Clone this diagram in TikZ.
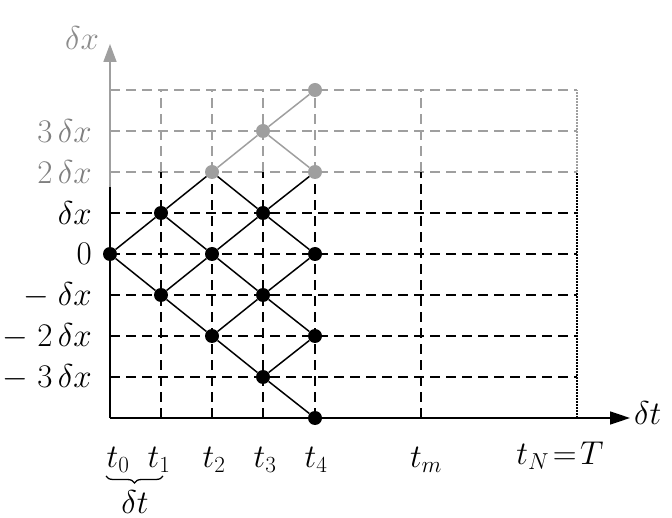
\RequirePackage{fix-cm}
\documentclass[tikz,border=0pt]{standalone}
\usetikzlibrary{arrows.meta,decorations.pathreplacing}
\begin{document}
\begin{tikzpicture}[x=1pt,y=-1pt,
  every node/.style={font=\fontsize{33}{36}\selectfont},
  bdot/.style={circle,fill=black,inner sep=0pt,minimum size=14pt},
  gdot/.style={circle,fill=gray!75,inner sep=0pt,minimum size=14pt},
  bgrid/.style={black,line width=1.4pt,dash pattern=on 10pt off 6pt},
  ggrid/.style={gray!75,line width=1.4pt,dash pattern=on 10pt off 6pt},
  bedge/.style={black,line width=1.5pt},
  gedge/.style={gray!75,line width=1.5pt},
  lab/.style={anchor=east,inner sep=0pt}]
\useasboundingbox (0,0) rectangle (672,518);
% horizontal grid lines
\foreach \k in {-3,-2,-1,0,1}{
  \draw[bgrid] (110,254-41*\k) -- (577,254-41*\k);}
\foreach \k in {2,3,4}{
  \draw[ggrid] (110,254-41*\k) -- (577,254-41*\k);}
% vertical grid lines
\foreach \x in {161,212,263,315,421}{
  \draw[bgrid] (\x,418) -- (\x,172);
  \draw[ggrid] (\x,172) -- (\x,90);}
\draw[black,line width=1.7pt,dash pattern=on 1.5pt off 1.5pt] (577,418) -- (577,172);
\draw[gray!75,line width=1.7pt,dash pattern=on 1.5pt off 1.5pt] (577,172) -- (577,90);
% axes
\coordinate (o) at (110,418);
\coordinate (ymid) at (110,187);
\coordinate (ytip) at (110,44);
\coordinate (xtip) at (630,418);
\draw[line width=1.6pt] (o) -- (ymid);
\draw[gray!75,line width=1.6pt,-{Triangle[length=18pt,width=13pt]}] (ymid) -- (ytip);
\draw[line width=1.6pt,-{Triangle[length=20pt,width=13pt]}] (o) -- (xtip);
\node[text=gray!90] (ylab) at (82,38) {$\delta x$};
\node[anchor=west,inner sep=0pt] (xlab) at (634,413) {$\delta t$};
% nodes
\node[bdot] (a00) at (110,254) {};
\node[bdot] (a1p) at (161,213) {};
\node[bdot] (a1m) at (161,295) {};
\node[gdot] (a2pp) at (212,172) {};
\node[bdot] (a20) at (212,254) {};
\node[bdot] (a2mm) at (212,336) {};
\node[gdot] (a3p3) at (263,131) {};
\node[bdot] (a3p1) at (263,213) {};
\node[bdot] (a3m1) at (263,295) {};
\node[bdot] (a3m3) at (263,377) {};
\node[gdot] (a4p4) at (315,90) {};
\node[gdot] (a4p2) at (315,172) {};
\node[bdot] (a40) at (315,254) {};
\node[bdot] (a4m2) at (315,336) {};
\node[bdot] (a4m4) at (315,418) {};
% edges
\draw[bedge] (a00) -- (a1p);
\draw[bedge] (a00) -- (a1m);
\draw[bedge] (a1p) -- (a2pp);
\draw[bedge] (a1p) -- (a20);
\draw[bedge] (a1m) -- (a20);
\draw[bedge] (a1m) -- (a2mm);
\draw[gedge] (a2pp) -- (a3p3);
\draw[bedge] (a2pp) -- (a3p1);
\draw[bedge] (a20) -- (a3p1);
\draw[bedge] (a20) -- (a3m1);
\draw[bedge] (a2mm) -- (a3m1);
\draw[bedge] (a2mm) -- (a3m3);
\draw[gedge] (a3p3) -- (a4p4);
\draw[gedge] (a3p3) -- (a4p2);
\draw[bedge] (a3p1) -- (a4p2);
\draw[bedge] (a3p1) -- (a40);
\draw[bedge] (a3m1) -- (a40);
\draw[bedge] (a3m1) -- (a4m2);
\draw[bedge] (a3m3) -- (a4m2);
\draw[bedge] (a3m3) -- (a4m4);
% y labels
\node[lab,text=gray] (l3) at (92,131) {$3\,\delta x$};
\node[lab,text=gray] (l2) at (92,172) {$2\,\delta x$};
\node[lab] (l1) at (92,213) {$\delta x$};
\node[lab] (l0) at (92,254) {$0$};
\node[lab] (lm1) at (92,295) {$-\;\delta x$};
\node[lab] (lm2) at (92,336) {$-\;2\,\delta x$};
\node[lab] (lm3) at (92,377) {$-\;3\,\delta x$};
% t labels
\node (t0) at (118,460) {$t_0$};
\node (t1) at (159,460) {$t_1$};
\node (t2) at (214,460) {$t_2$};
\node (t3) at (265,460) {$t_3$};
\node (t4) at (316,460) {$t_4$};
\node (tm) at (426,460) {$t_m$};
\node (tN) at (560,456) {$t_N\!=\!T$};
\draw[line width=1.3pt,decorate,decoration={brace,mirror,amplitude=7pt}] (106,476) -- (163,476);
\node[anchor=base,inner sep=0pt] (dt) at (135,513) {$\delta t$};
\end{tikzpicture}
\end{document}
